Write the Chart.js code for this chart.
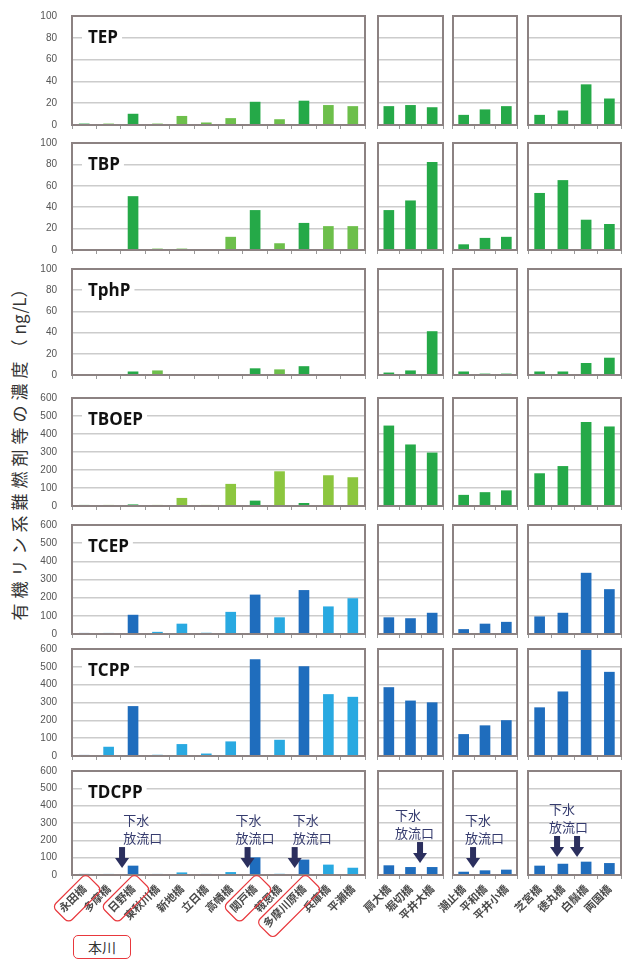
<!DOCTYPE html>
<html>
<head>
<meta charset="utf-8">
<script src="https://cdn.jsdelivr.net/npm/chart.js@4.4.0/dist/chart.umd.min.js"></script>
<style>
  body { margin: 0; background: #fff; width: 624px; height: 960px; position: relative; overflow: hidden; font-family: "Noto Sans CJK JP", sans-serif; }
  canvas { position: absolute; }
  #ytitle { position: absolute; left: 18px; top: 448px; transform: translate(-50%, -50%) rotate(-90deg); white-space: nowrap; font-size: 17px; letter-spacing: 5px; color: #333; }
  #ytitle span { letter-spacing: 0; }
  #honsen { position: absolute; left: 73px; top: 935px; width: 56px; height: 22px; border: 1px solid #e8383d; border-radius: 5px; text-align: center; line-height: 22px; font-size: 14px; color: #333; }
</style>
</head>
<body>
<div id="ytitle">有機リン系難燃剤等の濃度（<span>ng/L</span>）</div>
<div id="honsen">本川</div>
<script>
// stations
const mainSites = ['永田橋', '多摩橋', '日野橋', '東秋川橋', '新地橋', '立日橋', '高幡橋', '関戸橋', '報恩橋', '多摩川原橋', '兵庫橋', '平瀬橋'];
const arakawaSites = ['扇大橋', '堀切橋', '平井大橋'];
const nakagawaSites = ['潮止橋', '平和橋', '平井小橋'];
const sumidaSites = ['芝宮橋', '徳丸橋', '白鬚橋', '両国橋'];
const honsen = [true, false, true, false, false, false, false, true, false, true, false, false];

const compounds = ['TEP', 'TBP', 'TphP', 'TBOEP', 'TCEP', 'TCPP', 'TDCPP'];
const yMax = [100, 100, 100, 600, 600, 600, 600];
const yStep = [20, 20, 20, 100, 100, 100, 100];

// ng/L, [main, arakawa, nakagawa, sumida]
const tep = [[1, 1, 10, 1, 8, 2, 6, 21, 5, 22, 18, 17], [17, 18, 16], [9, 14, 17], [9, 13, 37, 24]];
const tbp = [[0, 0, 50, 1, 1, 0, 12, 37, 6, 25, 22, 22], [37, 46, 82], [5, 11, 12], [53, 65, 28, 24]];
const tphp = [[0, 0, 3, 4, 0, 0, 0, 6, 5, 8, 0, 0], [2, 4, 41], [3, 1, 1], [3, 3, 11, 16]];
const tboep = [[2, 1, 7, 2, 43, 2, 121, 28, 191, 15, 169, 158], [445, 340, 295], [60, 75, 85], [180, 220, 465, 440]];
const tcep = [[2, 2, 104, 10, 55, 5, 120, 215, 90, 240, 150, 195], [90, 85, 115], [25, 55, 65], [95, 115, 335, 245]];
const tcpp = [[4, 50, 278, 5, 65, 12, 80, 540, 89, 502, 345, 330], [384, 309, 299], [121, 170, 199], [271, 360, 600, 470]];
const tdcpp = [[3, 3, 52, 3, 13, 3, 15, 100, 5, 87, 58, 40], [54, 44, 44], [17, 25, 29], [52, 63, 75, 67]];
const values = [tep, tbp, tphp, tboep, tcep, tcpp, tdcpp];

// sewage outfalls on the TDCPP row (category position, arrow tip value)
const outfalls = [
  { col: 0, arrows: [1.55], text: 1.6, tip: 40 },
  { col: 0, arrows: [6.69], text: 6.2, tip: 40 },
  { col: 0, arrows: [8.62], text: 8.54, tip: 40 },
  { col: 1, arrows: [1.44], text: 0.28, tip: 69 },
  { col: 2, arrows: [0.44], text: 0.06, tip: 40 },
  { col: 3, arrows: [0.75, 1.61], text: 0.4, tip: 104 }
];

const siteGroups = [mainSites, arakawaSites, nakagawaSites, sumidaSites];
const rowTop = [16, 143, 269, 398, 525, 649, 771];
const rowBottom = [125, 250, 375, 506, 634, 756, 875];
const colLeft = [72, 378, 453, 528];
const colRight = [365, 443, 517, 621];

const tickFont = { family: '"Noto Sans CJK JP", sans-serif', size: 11, weight: 'bold' };

function barColor(r, c, i) {
  const green = r < 4;
  const dark = c > 0 || honsen[i];
  if (green) return dark ? '#25a948' : (r === 3 ? '#8cc63f' : '#6dbf4b');
  return dark ? '#1f6dbd' : '#29a9e1';
}

const panelPlugin = {
  id: 'panel',
  afterDraw(chart, args, opts) {
    const { ctx, chartArea: a } = chart;
    ctx.save();
    ctx.strokeStyle = '#8c8282';
    ctx.lineWidth = 2;
    ctx.strokeRect(a.left, a.top, a.right - a.left, a.bottom - a.top);

    if (opts.label) {
      ctx.font = 'bold 17px "Open Sans", sans-serif';
      const tw = ctx.measureText(opts.label).width;
      const cy = a.top + 21;
      ctx.fillStyle = '#fff';
      ctx.fillRect(a.left + 10, cy - 9, tw + 10, 18);
      ctx.fillStyle = '#111';
      ctx.textBaseline = 'middle';
      ctx.fillText(opts.label, a.left + 16, cy + 1);
    }

    const x = chart.scales.x, y = chart.scales.y;
    (opts.outfalls || []).forEach(o => {
      const tipY = y.getPixelForValue(o.tip);
      const topY = tipY - 21;
      ctx.fillStyle = '#2b2f5e';
      o.arrows.forEach(p => {
        const ax = x.getPixelForValue(p);
        ctx.fillRect(ax - 3, topY, 6, 12);
        ctx.beginPath();
        ctx.moveTo(ax - 7, topY + 11);
        ctx.lineTo(ax + 7, topY + 11);
        ctx.lineTo(ax, tipY);
        ctx.closePath();
        ctx.fill();
      });
      const tx = x.getPixelForValue(o.text);
      ctx.fillStyle = '#353b6e';
      ctx.font = '13px "Noto Sans CJK JP", sans-serif';
      ctx.textBaseline = 'middle';
      ctx.fillText('下水', tx, topY - 27);
      ctx.fillText('放流口', tx, topY - 9);
    });

    if (opts.boxes) {
      ctx.font = 'bold 11px "Noto Sans CJK JP", sans-serif';
      ctx.strokeStyle = '#e8383d';
      ctx.lineWidth = 1.2;
      const ty = x.top + 4 + 3;
      opts.boxes.forEach((on, i) => {
        if (!on) return;
        const px = x.getPixelForTick(i);
        const w = ctx.measureText(x.ticks[i].label).width;
        ctx.save();
        ctx.translate(px, ty);
        ctx.rotate(-Math.PI / 4);
        ctx.beginPath();
        ctx.roundRect(-w - 7, -5, w + 14, 23, 5);
        ctx.stroke();
        ctx.restore();
      });
    }
    ctx.restore();
  }
};

function makeChart(r, c) {
  const ML = c === 0 ? 72 : 24, MR = 12, MT = 8;
  const last = r === compounds.length - 1;
  const XH = last ? 78 : 8;
  const cv = document.createElement('canvas');
  cv.width = colRight[c] - colLeft[c] + ML + MR;
  cv.height = rowBottom[r] - rowTop[r] + MT + XH;
  cv.style.left = (colLeft[c] - ML) + 'px';
  cv.style.top = (rowTop[r] - MT) + 'px';
  document.body.appendChild(cv);

  const labels = siteGroups[c];
  const data = values[r][c];
  new Chart(cv, {
    type: 'bar',
    data: {
      labels: labels,
      datasets: [{
        data: data,
        backgroundColor: data.map((v, i) => barColor(r, c, i)),
        barThickness: 10
      }]
    },
    options: {
      responsive: false,
      animation: false,
      layout: { padding: { top: MT, right: MR, left: 0, bottom: 0 } },
      plugins: {
        legend: { display: false },
        tooltip: { enabled: false },
        panel: {
          label: c === 0 ? compounds[r] : null,
          outfalls: last ? outfalls.filter(o => o.col === c) : [],
          boxes: last && c === 0 ? honsen : null
        }
      },
      scales: {
        x: {
          border: { display: false },
          grid: { drawOnChartArea: false, tickLength: 4, color: '#9a9a9a' },
          ticks: {
            display: last,
            autoSkip: false,
            minRotation: 45,
            maxRotation: 45,
            padding: 3,
            font: tickFont,
            color: '#4a4a4a'
          },
          afterFit: s => { s.height = XH; }
        },
        y: {
          min: 0,
          max: yMax[r],
          border: { display: false },
          grid: { color: '#cccccc', lineWidth: 1.5, drawTicks: true, tickLength: 13, tickColor: 'rgba(0,0,0,0)' },
          ticks: {
            display: c === 0,
            stepSize: yStep[r],
            padding: 2,
            font: { size: 10 },
            color: '#555'
          },
          afterFit: s => { s.width = ML; }
        }
      }
    },
    plugins: [panelPlugin]
  });
}

for (let r = 0; r < compounds.length; r++) {
  for (let c = 0; c < siteGroups.length; c++) makeChart(r, c);
}
</script>
</body>
</html>
